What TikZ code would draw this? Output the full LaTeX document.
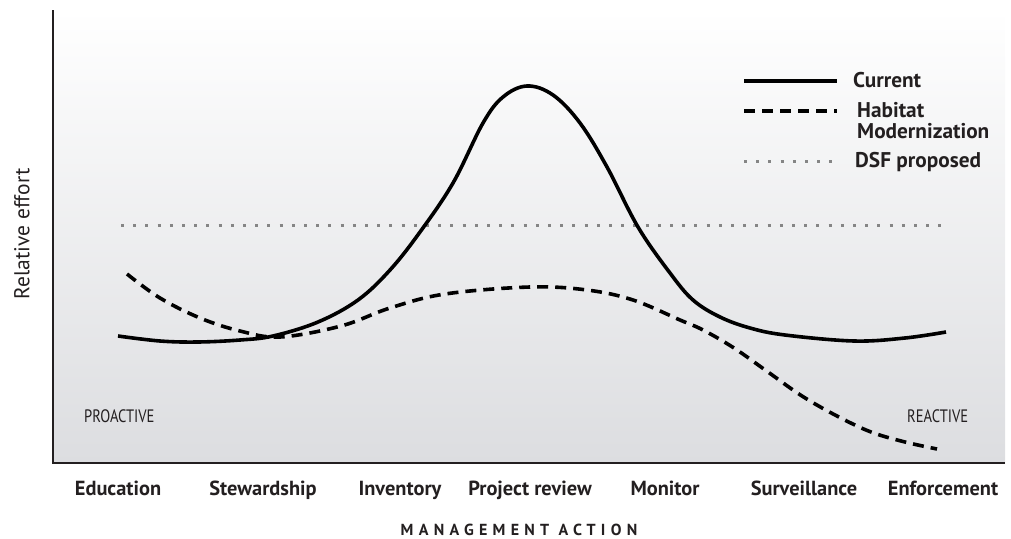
\documentclass[tikz,border=0pt]{standalone}
\usepackage{fontspec}
\setmainfont{PT Sans}
\newfontfamily\condfont[FakeStretch=0.81]{PT Sans}
\newfontfamily\spacedfont[LetterSpace=33]{PT Sans}
\definecolor{ink}{HTML}{231F20}
\definecolor{bgbot}{HTML}{DCDDE0}
\definecolor{dotgray}{HTML}{858585}
\tikzset{
  axisline/.style={draw=ink, line width=1.6pt},
  curcurve/.style={draw=black, line width=3.6pt},
  habcurve/.style={draw=black, line width=3.6pt, dash pattern=on 11pt off 7pt},
  dsfcurve/.style={draw=dotgray, line width=3pt, dash pattern=on 3pt off 9.2pt},
  actlabel/.style={font=\bfseries\fontsize{20.4}{24}\selectfont, text=ink, inner sep=0pt, anchor=base},
  leglabel/.style={font=\bfseries\fontsize{21.3}{24}\selectfont, text=ink, inner sep=0pt, anchor=base west},
  sidelabel/.style={font=\condfont\fontsize{18}{20}\selectfont, text=ink, inner sep=0pt, anchor=base west},
}
\begin{document}
\begin{tikzpicture}[x=1pt,y=-1pt]
\useasboundingbox (0,0) rectangle (1011,538);
% plot area
\coordinate (top) at (53,10);
\coordinate (origin) at (53,463);
\coordinate (xend) at (1005,463);
\shade[top color=white, bottom color=bgbot] (top) rectangle (xend);
\draw[axisline] (top) -- (origin) -- (xend);

% DSF proposed
\coordinate (dsfA) at (121,225);
\coordinate (dsfB) at (945,225);
\draw[dsfcurve] (dsfA) -- (dsfB);

% Habitat Modernization
\draw[habcurve] plot[smooth, tension=0.6] coordinates {
 (127,274) (160,298) (200,318) (240,331) (280,337) (341,326) (390,308)
 (445,294) (530,287) (587,290) (633,300) (680,320) (703,330)
 (734,348) (768,372) (802,396) (837,416) (871,432) (905,442) (937,449)};

% Current
\draw[curcurve] plot[smooth, tension=0.6] coordinates {
 (118,336) (160,341) (198,342) (240,340) (273,336) (318,322) (358,300)
 (390,270) (420,232) (453,183) (483,123) (503,97) (527,86) (553,95)
 (580,123) (607,167) (638,227) (670,273) (693,300) (720,317) (750,328)
 (785,335) (854,341) (905,338) (946,332)};

% legend
\node[leglabel] (lcur) at (853,87) {Current};
\node[leglabel] (lhab) at (857,117) {Habitat};
\node[leglabel] (lmod) at (857,138) {Modernization};
\node[leglabel] (ldsf) at (855,167) {DSF proposed};
\coordinate (lcurA) at (744,81); \coordinate (lcurB) at (837,81);
\coordinate (lhabA) at (744,111); \coordinate (lhabB) at (837,111);
\coordinate (ldsfA) at (744,161); \coordinate (ldsfB) at (837,161);
\draw[curcurve] (lcurA) -- (lcurB);
\draw[habcurve] (lhabA) -- (lhabB);
\draw[dsfcurve] (ldsfA) -- (ldsfB);

% side labels
\node[sidelabel] (pro) at (84,422) {PROACTIVE};
\node[sidelabel] (rea) at (907,422) {REACTIVE};

% y axis title
\node[font=\fontsize{21.5}{24}\selectfont, text=ink, rotate=90, inner sep=0pt] (ytitle) at (22,234) {Relative effort};

% x labels
\node[actlabel] (a1) at (118,495) {Education};
\node[actlabel] (a2) at (263,495) {Stewardship};
\node[actlabel] (a3) at (400,495) {Inventory};
\node[actlabel] (a4) at (530,495) {Project review};
\node[actlabel] (a5) at (665,495) {Monitor};
\node[actlabel] (a6) at (804,495) {Surveillance};
\node[actlabel] (a7) at (943,495) {Enforcement};

\node[font=\spacedfont\bfseries\fontsize{16}{19}\selectfont, text=ink, inner sep=0pt, anchor=base] (xtitle) at (519,535) {MANAGEMENT ACTION};
\end{tikzpicture}
\end{document}
